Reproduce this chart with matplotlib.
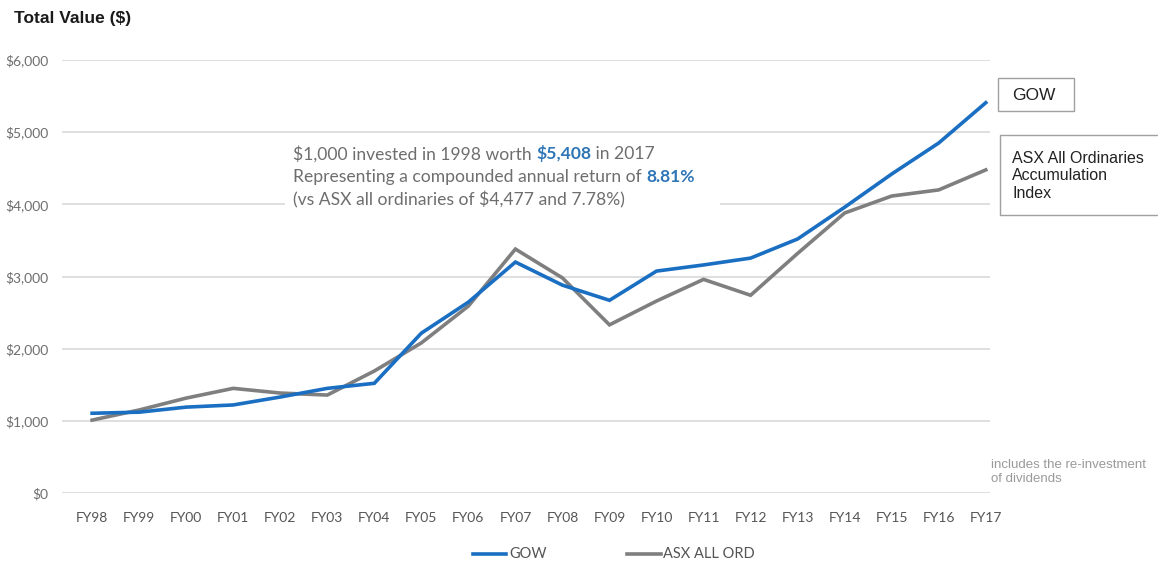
import numpy as np
import matplotlib.pyplot as plt
from matplotlib.patches import Rectangle
from matplotlib.lines import Line2D

# データ
years = ['FY98', 'FY99', 'FY00', 'FY01', 'FY02', 'FY03', 'FY04', 'FY05', 'FY06', 'FY07',
         'FY08', 'FY09', 'FY10', 'FY11', 'FY12', 'FY13', 'FY14', 'FY15', 'FY16', 'FY17']
gow = [1105, 1120, 1190, 1220, 1330, 1450, 1520, 2215, 2645, 3200,
       2880, 2670, 3075, 3160, 3255, 3520, 3960, 4420, 4850, 5408]
asx = [1010, 1150, 1315, 1450, 1385, 1357, 1690, 2080, 2590, 3380,
       2980, 2330, 2660, 2960, 2740, 3320, 3880, 4115, 4200, 4477]
yticks = [0, 1000, 2000, 3000, 4000, 5000, 6000]

blue = '#1a6fc2'
grey = '#7f7f7f'
txtgrey = '#6e6e6e'
cal = ['Lato', 'DejaVu Sans']
arial = ['Liberation Sans', 'DejaVu Sans']

fig = plt.figure(figsize=(11.58, 5.64), dpi=100)
W, H = 1158, 564
ax = fig.add_axes([62/W, 1-493/H, (990-62)/W, (493-60)/H])

x = np.arange(len(years))
ax.plot(x, asx, color=grey, lw=2.6, solid_joinstyle='miter', zorder=3)
ax.plot(x, gow, color=blue, lw=2.6, solid_joinstyle='miter', zorder=4)

ax.set_ylim(0, 6000)
ax.set_xlim(-0.64, 19.09)
ax.set_yticks(yticks)
ax.set_yticklabels(['${:,}'.format(v) for v in yticks], family=cal, fontsize=10, color=txtgrey)
ax.set_xticks(x)
ax.set_xticklabels(years, family=cal, fontsize=10, color='#555555')
ax.tick_params(length=0, axis='y', pad=10)
ax.tick_params(length=0, axis='x', pad=14)
for s in ax.spines.values():
    s.set_visible(False)
ax.grid(axis='y', color='#d9d9d9', lw=1.2, zorder=0)

# タイトル
fig.text(14/W, 1-19/H, 'Total Value ($)', family=arial, fontsize=12.5, fontweight='bold',
         va='center', ha='left', color='#1a1a1a')

# 注釈（白背景）
fig.patches.append(Rectangle((285/W, 1-215/H), 435/W, 75/H, transform=fig.transFigure,
                             facecolor='white', edgecolor='none', zorder=2))
fig.canvas.draw()
r = fig.canvas.get_renderer()

def rich(x0, y0, parts, size=12.6):
    xx = x0
    for s, c, w in parts:
        t = fig.text(xx/W, 1-y0/H, s, family=cal, fontsize=size, color=c, fontweight=w,
                     va='center', ha='left', zorder=5)
        bb = t.get_window_extent(renderer=r)
        xx += bb.width

rich(293, 154, [('$1,000 invested in 1998 worth ', txtgrey, 'normal'),
                ('$5,408', '#2e75b6', 'bold'),
                (' in 2017', txtgrey, 'normal')])
rich(293, 177, [('Representing a compounded annual return of ', txtgrey, 'normal'),
                ('8.81%', '#2e75b6', 'bold')])
rich(293, 200, [('(vs ASX all ordinaries of $4,477 and 7.78%)', txtgrey, 'normal')])

# 右側のボックス
fig.patches.append(Rectangle((998/W, 1-111/H), 76/W, 33/H, transform=fig.transFigure,
                             facecolor='white', edgecolor='#a0a0a0', lw=1))
fig.text(1012/W, 1-95/H, 'GOW', family=arial, fontsize=12.5, color='#222222', va='center')
fig.patches.append(Rectangle((1000/W, 1-215/H), 160/W, 80/H, transform=fig.transFigure,
                             facecolor='white', edgecolor='#a0a0a0', lw=1))
fig.text(1012/W, 1-176/H, 'ASX All Ordinaries\nAccumulation\nIndex', family=arial, fontsize=11.5,
         color='#222222', va='center', linespacing=1.2)

fig.text(991/W, 1-472/H, 'includes the re-investment\nof dividends', family=arial, fontsize=9.5,
         color='#9a9a9a', va='center', linespacing=1.15)

# 凡例
fig.lines.append(Line2D([473/W, 506/W], [1-554/H, 1-554/H], transform=fig.transFigure, color=blue, lw=2.6))
fig.text(509/W, 1-554/H, 'GOW', family=cal, fontsize=10.5, color='#555555', va='center')
fig.lines.append(Line2D([627/W, 661/W], [1-554/H, 1-554/H], transform=fig.transFigure, color=grey, lw=2.6))
fig.text(663/W, 1-554/H, 'ASX ALL ORD', family=cal, fontsize=10.5, color='#555555', va='center')

fig.savefig('out.png', dpi=100)
